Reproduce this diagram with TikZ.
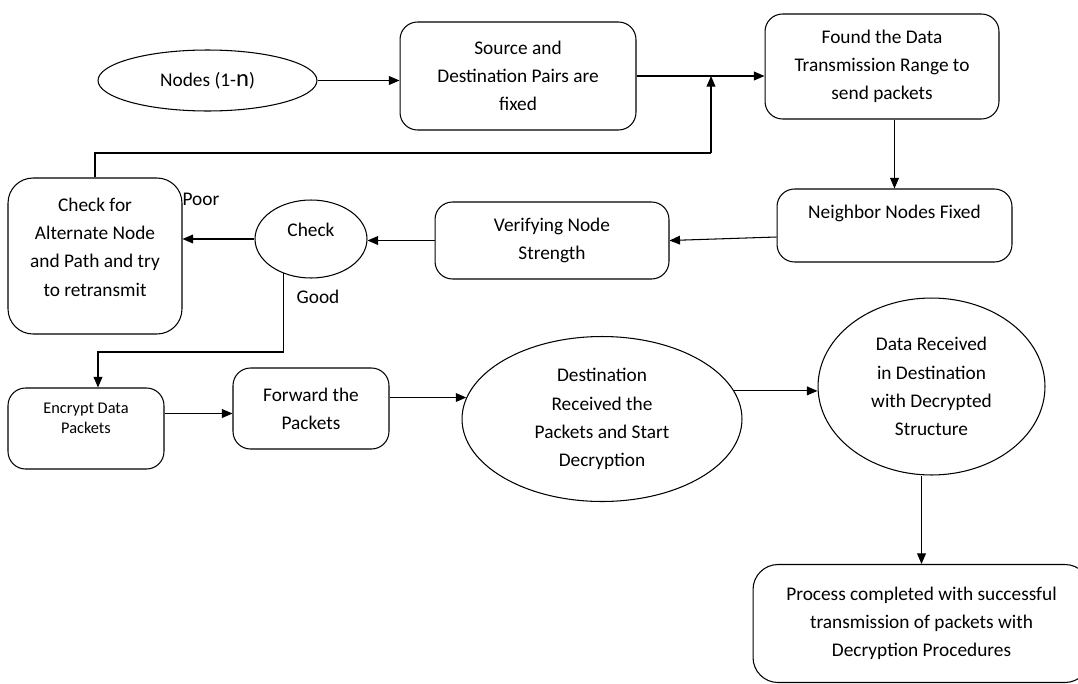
\documentclass[tikz,border=0pt]{standalone}
\usepackage{fontspec}
\setmainfont{Carlito}
\usetikzlibrary{shapes.geometric}
\usetikzlibrary{arrows.meta}
\usetikzlibrary{calc}

\tikzset{
  blk/.style={draw, rounded corners=0.35cm, align=center, line width=0.6pt},
  oval/.style={draw, ellipse, align=center, inner sep=0pt, line width=0.6pt},
  arr/.style={-{Triangle[length=6pt,width=5pt]}, line width=0.6pt},
}

\begin{document}
\begin{tikzpicture}[x=0.02cm, y=-0.02cm, font=\fontsize{11}{16}\selectfont]
            \clip (0,0) rectangle (1078,683);

            \node[oval, minimum width=4.38cm, minimum height=1.22cm] (nodes) at (207.5,80.5) {Nodes (1-{\fontsize{14}{16}\selectfont n})};
            \node[blk, minimum width=4.72cm, minimum height=2.16cm] (src) at (518,76) {Source and\\Destination Pairs are\\fixed};
            \node[blk, minimum width=4.68cm, minimum height=2.1cm] (found) at (882,66.5) {Found the Data\\Transmission Range to\\send packets};
            \node[blk, minimum width=4.7cm, minimum height=1.46cm] (nbr) at (894.5,225.5) {Neighbor Nodes Fixed\\~};
            \node[blk, minimum width=4.68cm, minimum height=1.54cm] (ver) at (552,240.5) {Verifying Node\\Strength};
            \node[oval, minimum width=2.24cm, minimum height=1.56cm] (chk) at (311,239) {Check\\[-6pt]~};
            \node[blk, rounded corners=0.5cm, minimum width=3.48cm, minimum height=3.12cm] (alt) at (95,256) {Check for\\Alternate Node\\and Path and try\\to retransmit\\[-6pt]~};
            \node (poor) at (201,199) {Poor};
            \node (good) at (318,297) {Good};

            \node[blk, minimum width=3.12cm, minimum height=1.62cm, font=\fontsize{9.3}{11.5}\selectfont] (enc) at (86,428.5) {Encrypt Data\\Packets\\~};
            \node[blk, minimum width=3.12cm, minimum height=1.62cm] (fwd) at (311,408.5) {Forward the\\Packets};
            \node[oval, minimum width=5.6cm, minimum height=3.3cm] (dst) at (602,419) {Destination\\Received the\\Packets and Start\\Decryption};
            \node[oval, minimum width=4.54cm, minimum height=3.54cm] (dat) at (931.5,386.5) {Data Received\\in Destination\\with Decrypted\\Structure};
            \node[blk, rounded corners=0.5cm, minimum width=6.74cm, minimum height=2.36cm] (proc) at (921.5,623.5) {Process completed with successful\\transmission of packets with\\Decryption Procedures};

            \draw[arr] (nodes.east) -- (nodes.east -| src.west);
            \draw[arr] (src.east) -- (src.east -| found.west);
            \coordinate (lp) at (711,153);
            \draw[line width=0.6pt] (alt.north) |- (lp);
            \draw[arr] (lp) -- (lp |- src.east);
            \draw[arr] (nbr.north |- found.south) -- (nbr.north);
            \draw[arr] ($(nbr.west)+(0,11.5)$) -- (ver.east);
            \draw[arr] (ver.west) -- (ver.west -| chk.east);
            \draw[arr] (chk.west) -- (chk.west -| alt.east);
            \coordinate (gd) at (98,352);
            \draw[arr] (chk.231) |- (gd) -- (gd |- enc.north);
            \draw[arr] ($(enc.east)+(0,-15)$) -- ($(fwd.west)+(0,5)$);
            \draw[arr] (fwd.east |- dst.171) -- (dst.171);
            \draw[arr] (dst.12) -- (dst.12 -| dat.west);
            \draw[arr] (proc.north |- dat.south) -- (proc.north);
        \end{tikzpicture}
\end{document}
